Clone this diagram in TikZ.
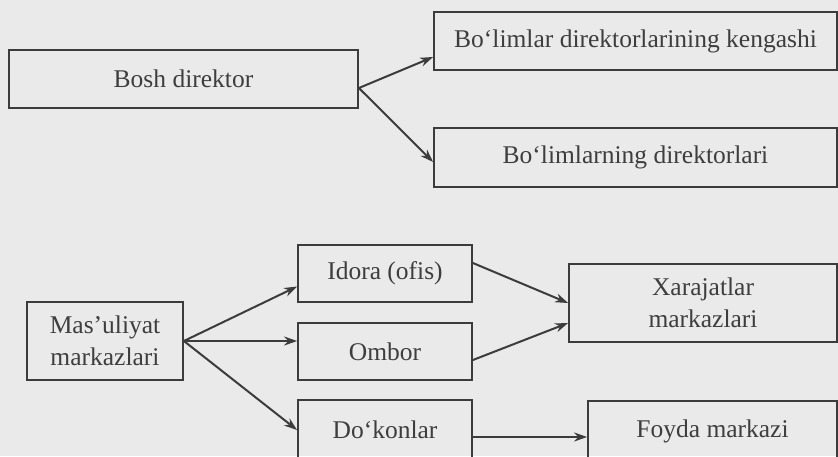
\documentclass[tikz,border=0pt]{standalone}
\usepackage{fontspec}
\setmainfont{Liberation Serif}
\usetikzlibrary{arrows.meta,positioning}
\definecolor{bg}{RGB}{234,234,234}
\definecolor{ink}{RGB}{60,60,60}
\definecolor{txt}{RGB}{62,62,62}
\begin{document}
\begin{tikzpicture}[x=1pt,y=-1pt,
  box/.style={draw=ink,line width=1.8pt,rectangle,inner sep=0pt,align=center,
    text=txt,font=\fontsize{25.5}{32}\selectfont},
  arr/.style={draw=ink,line width=2pt,-{Stealth[length=13pt,width=9pt]}}]
\fill[bg] (0,0) rectangle (838,456);
\useasboundingbox (0,0) rectangle (838,456);
\begin{scope}
\clip (0,0) rectangle (838,456);
\node[box,minimum width=349pt,minimum height=58pt] (bosh) at (183.5,79) {Bosh direktor};
\node[box,minimum width=403pt,minimum height=58pt] (keng) at (635.5,41) {Bo‘limlar direktorlarining kengashi};
\node[box,minimum width=403pt,minimum height=59pt] (dir) at (635.5,157.5) {Bo‘limlarning direktorlari};
\node[box,minimum width=156pt,minimum height=78pt] (mas) at (105,341) {Mas’uliyat\\markazlari};
\node[box,minimum width=174pt,minimum height=57pt] (ido) at (385,273.5) {Idora (ofis)};
\node[box,minimum width=174pt,minimum height=57pt] (omb) at (385,351.5) {Ombor};
\node[box,minimum width=174pt,minimum height=60pt] (dok) at (385,430) {Do‘konlar};
\node[box,minimum width=268pt,minimum height=78pt] (xar) at (703,303) {Xarajatlar\\markazlari};
\node[box,minimum width=249pt,minimum height=60pt] (foy) at (712.5,431) {Foyda markazi};

\draw[arr] ([yshift=-9pt]bosh.east) -- ([yshift=-16pt]keng.west);
\draw[arr] ([yshift=-9pt]bosh.east) -- ([yshift=-4.5pt]dir.west);
\draw[arr] (mas.east) -- ([yshift=-13pt]ido.west);
\draw[arr] (mas.east) -- ([yshift=10.5pt]omb.west);
\draw[arr] (mas.east) -- (dok.west);
\draw[arr] ([yshift=10.5pt]ido.east) -- (xar.west);
\draw[arr] ([yshift=-8.5pt]omb.east) -- ([yshift=-20pt]xar.west);
\draw[arr] ([yshift=-7pt]dok.east) -- ([yshift=-6pt]foy.west);
\end{scope}
\end{tikzpicture}
\end{document}
